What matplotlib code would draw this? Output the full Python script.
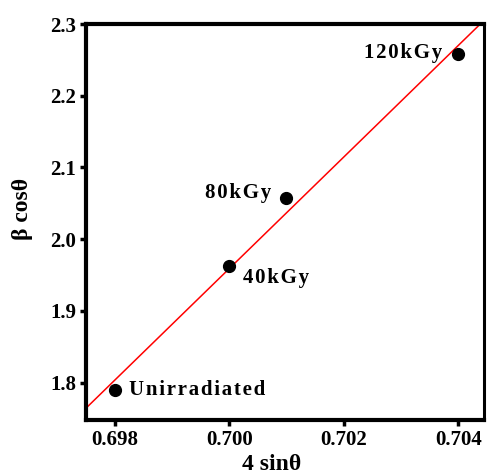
import numpy as np
import matplotlib
matplotlib.use('Agg')
import matplotlib.pyplot as plt

plt.rcParams['font.family'] = ['Liberation Serif', 'DejaVu Serif']
plt.rcParams['font.weight'] = 'bold'

# 4 sinθ 与 β cosθ 数据
x = [0.698, 0.700, 0.701, 0.704]
y = [1.790, 1.963, 2.058, 2.258]
labels = ['Unirradiated', '40kGy', '80kGy', '120kGy']


def spaced(s):
    # 字母间加细空格
    return '\u200a'.join(s)


fig = plt.figure(figsize=(4.88, 4.75), dpi=100)
ax = fig.add_axes([86 / 488, 55 / 475, 398 / 488, 396 / 475])

# 线性拟合
k, b = np.polyfit(x, y, 1)
xl = np.array([0.6975, 0.70445])
ax.plot(xl, k * xl + b, color='red', lw=1.1)

ax.plot(x, y, 'o', color='black', ms=8.5)

# 标注: (dx, dy, ha)
offsets = [(14, 0, 'left'), (14, -12, 'left'), (-15, 5, 'right'), (-16, 1, 'right')]
for xi, yi, s, (dx, dy, ha) in zip(x, y, labels, offsets):
    ax.annotate(spaced(s), (xi, yi), xytext=(dx, dy), textcoords='offset pixels',
                ha=ha, va='center', fontsize=15, fontweight='bold')

ax.set_xlim(0.6975, 0.70445)
ax.set_ylim(1.748, 2.3)
ax.set_xticks([0.698, 0.700, 0.702, 0.704])
ax.set_xticklabels(['0.698', '0.700', '0.702', '0.704'])
ax.set_yticks([1.8, 1.9, 2.0, 2.1, 2.2, 2.3])
ax.set_yticklabels(['1.8', '1.9', '2.0', '2.1', '2.2', '2.3'])

for side in ['left', 'bottom', 'top']:
    ax.spines[side].set_linewidth(3.0)
ax.spines['right'].set_linewidth(2.2)
ax.tick_params(direction='out', length=4, width=2.5, labelsize=15, pad=3)

ax.set_xlabel('4 sinθ', fontsize=17, fontweight='bold')
ax.set_ylabel('β cosθ', fontsize=17, fontweight='bold')
ax.xaxis.set_label_coords(0.467, -0.085)
ax.yaxis.set_label_coords(-0.132, 0.533)

fig.savefig('out.png', dpi=100)
